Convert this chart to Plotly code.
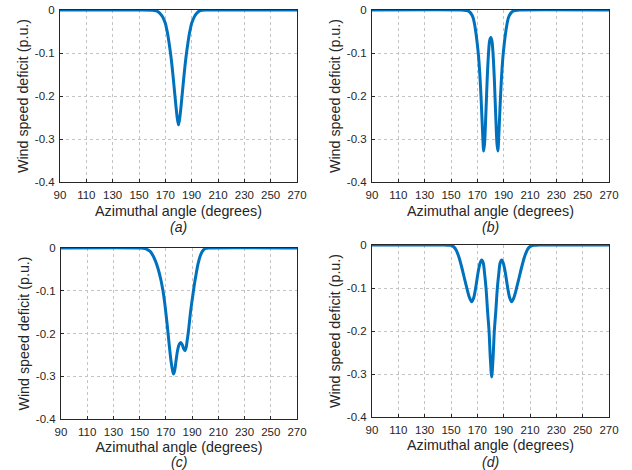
import plotly.graph_objects as go
from plotly.subplots import make_subplots

# ---------------- data ----------------
angles_a = [90, 150, 160, 163, 165, 166, 168, 170, 171, 172, 173, 174, 175, 176, 177, 178, 179,
            180, 181, 182, 183, 184, 185, 186, 187, 188, 189, 190, 192, 194, 196, 198, 200, 210, 270]
deficit_a = [0, 0, -0.0005, -0.002, -0.005, -0.008, -0.016, -0.031, -0.044, -0.06, -0.08, -0.102,
             -0.128, -0.158, -0.19, -0.222, -0.25, -0.267, -0.25, -0.222, -0.19, -0.158, -0.128,
             -0.102, -0.08, -0.06, -0.044, -0.031, -0.016, -0.007, -0.002, -0.0005, 0, 0, 0]

angles_b = [90, 158, 160, 162, 164, 166, 167, 168, 169, 170, 171, 172, 173, 174, 174.8, 175.5,
            176.5, 177.5, 178.5, 179.3, 180.2, 181.1, 181.9, 182.9, 183.9, 184.9, 185.6, 186.4,
            187.4, 188.4, 189.4, 190.4, 191.4, 192.4, 193.4, 194.4, 196.4, 198.4, 200.4, 202, 270]
deficit_b = [0, 0, -0.0005, -0.0015, -0.004, -0.012, -0.02, -0.035, -0.055, -0.08, -0.11, -0.155,
             -0.215, -0.285, -0.328, -0.31, -0.24, -0.16, -0.10, -0.072, -0.064, -0.072, -0.10,
             -0.16, -0.24, -0.31, -0.328, -0.285, -0.215, -0.155, -0.11, -0.08, -0.055, -0.035,
             -0.02, -0.012, -0.004, -0.0015, -0.0005, 0, 0]

angles_c = [90, 150, 154, 156, 158, 160, 162, 164, 166, 167, 168, 169, 170, 171, 172, 173, 174,
            175, 175.8, 176.8, 177.8, 179, 180.2, 181.3, 182.5, 183.6, 184.6, 185.5, 186.3, 187.1,
            188, 188.9, 190.2, 191.5, 193, 194.7, 196.5, 198.5, 200.5, 203, 270]
deficit_c = [0, 0, -0.001, -0.004, -0.008, -0.017, -0.03, -0.048, -0.072, -0.087, -0.104, -0.126,
             -0.152, -0.18, -0.21, -0.24, -0.266, -0.285, -0.295, -0.285, -0.262, -0.238, -0.225,
             -0.221, -0.226, -0.236, -0.24, -0.232, -0.215, -0.197, -0.172, -0.147, -0.118,
             -0.09, -0.062, -0.035, -0.016, -0.005, -0.001, 0, 0]

angles_d = [90, 145, 148, 150, 152, 154, 156, 158, 160, 162, 164, 165.7, 167.3, 169, 170.5, 172,
            173.3, 174.5, 175.5, 176.6, 177.8, 178.9, 179.8, 180.9, 182, 182.9, 184, 185.2, 186.3,
            187.3, 188.5, 189.8, 191.3, 192.8, 194.5, 196.1, 197.8, 199.8, 201.8, 203.8, 205.8,
            207.8, 209.8, 211.8, 214, 217, 270]
deficit_d = [0, 0, -0.0005, -0.001, -0.004, -0.012, -0.028, -0.05, -0.075, -0.1, -0.122, -0.132,
             -0.122, -0.095, -0.065, -0.043, -0.035, -0.042, -0.066, -0.1, -0.155, -0.2, -0.26,
             -0.307, -0.26, -0.2, -0.155, -0.1, -0.066, -0.042, -0.035, -0.043, -0.065, -0.095,
             -0.122, -0.132, -0.122, -0.1, -0.075, -0.05, -0.028, -0.012, -0.004, -0.001, -0.0005,
             0, 0]

panel_labels = ["(a)", "(b)", "(c)", "(d)"]
x_ticks = [90, 110, 130, 150, 170, 190, 210, 230, 250, 270]
y_ticks = [0, -0.1, -0.2, -0.3, -0.4]
y_tick_text = ["0", "-0.1", "-0.2", "-0.3", "-0.4"]
x_title = "Azimuthal angle (degrees)"
y_title = "Wind speed deficit (p.u.)"

series = [(angles_a, deficit_a), (angles_b, deficit_b), (angles_c, deficit_c), (angles_d, deficit_d)]

# ---------------- figure ----------------
W, H = 632, 470
FONT = "Liberation Sans, Arial, sans-serif"
TXT = "#262626"
LINE = "#0072BD"

fig = make_subplots(rows=2, cols=2)

# plot-area boxes in window pixels: (left, right, top, bottom)
boxes = [(60, 297, 10, 182), (372, 609, 10, 182), (61, 297, 248, 419), (372, 609, 245, 417)]
label_y = [227, 227, 462, 462]
title_standoff = [6, 6, 5, 5]
pos = [(1, 1), (1, 2), (2, 1), (2, 2)]

for i, ((xs, ys), (r, c), (l, rr, t, b)) in enumerate(zip(series, pos, boxes)):
    fig.add_trace(go.Scatter(x=xs, y=ys, mode="lines", line=dict(color=LINE, width=3, shape="spline", smoothing=0.8),
                             cliponaxis=False, showlegend=False, hoverinfo="skip"), row=r, col=c)
    xd = [l / W, rr / W]
    yd = [1 - b / H, 1 - t / H]
    fig.update_xaxes(domain=xd, range=[90, 270], tickvals=x_ticks, ticktext=[str(v) for v in x_ticks],
                     automargin=False,
                     showgrid=True, gridcolor="#c4c4c4", griddash="dot", gridwidth=1,
                     showline=True, linecolor=TXT, linewidth=1, mirror=True, zeroline=False,
                     ticks="inside", ticklen=3, tickcolor=TXT, layer="below traces",
                     ticklabelstandoff=2,
                     tickfont=dict(family=FONT, size=11.5, color=TXT),
                     title=dict(text=x_title, font=dict(family=FONT, size=14.3, color=TXT),
                                standoff=title_standoff[i]),
                     row=r, col=c)
    fig.update_yaxes(domain=yd, range=[-0.4, 0], tickvals=y_ticks, ticktext=y_tick_text,
                     automargin=False,
                     showgrid=True, gridcolor="#c4c4c4", griddash="dot", gridwidth=1,
                     showline=True, linecolor=TXT, linewidth=1, mirror=True, zeroline=False,
                     ticks="inside", ticklen=3, tickcolor=TXT, layer="below traces",
                     ticklabelstandoff=2,
                     tickfont=dict(family=FONT, size=11.5, color=TXT),
                     title=dict(text=y_title, font=dict(family=FONT, size=14.3, color=TXT), standoff=2),
                     row=r, col=c)
    fig.add_annotation(text="<i>" + panel_labels[i] + "</i>", xref="paper", yref="paper",
                       x=(l + rr) / 2 / W, y=1 - label_y[i] / H, xanchor="center", yanchor="middle",
                       showarrow=False, font=dict(family=FONT, size=14, color=TXT))

fig.update_layout(width=W, height=H, margin=dict(l=0, r=0, t=0, b=0),
                  paper_bgcolor="white", plot_bgcolor="white", showlegend=False)

fig.write_html("out.html", config={"displayModeBar": False},
               post_script="document.body.style.margin='0px';")
